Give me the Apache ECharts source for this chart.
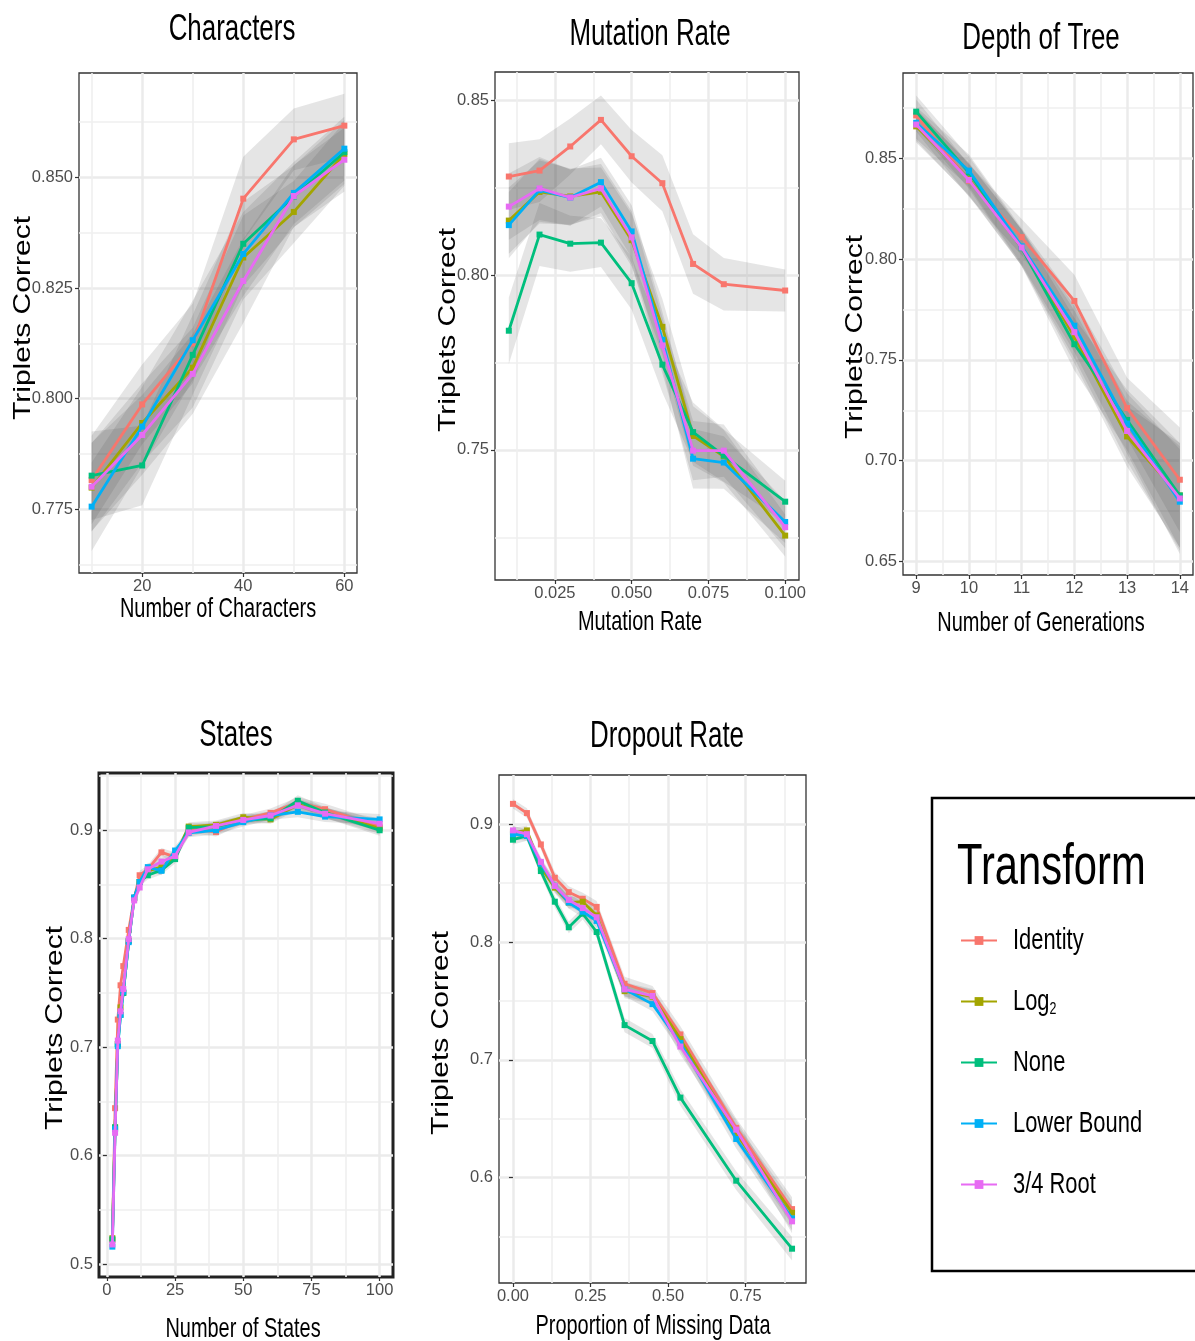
<!DOCTYPE html>
<html><head><meta charset="utf-8">
<script src="https://cdn.jsdelivr.net/npm/echarts@6/dist/echarts.min.js"></script>
<style>html,body{margin:0;padding:0;background:#fff}#c{width:1195px;height:1341px}</style>
</head><body><div id="c"></div>
<script>
const seriesNames = ['Identity', 'Log2', 'None', 'Lower Bound', '3/4 Root'];
const seriesColors = ['#F8766D', '#A3A500', '#00BF7D', '#00B0F6', '#E76BF3'];

// ---- Characters ----
const charX = [10, 20, 30, 40, 50, 60];
const charIdentity = [0.7816, 0.7987, 0.8125, 0.8452, 0.8586, 0.8617];
const charLog2     = [0.7799, 0.7945, 0.8070, 0.8319, 0.8422, 0.8553];
const charNone     = [0.7826, 0.7849, 0.8099, 0.8350, 0.8457, 0.8557];
const charLower    = [0.7756, 0.7937, 0.8132, 0.8327, 0.8465, 0.8565];
const charRoot     = [0.7801, 0.7918, 0.8056, 0.8266, 0.8458, 0.8540];
const charBand     = [0.010, 0.009, 0.009, 0.0095, 0.007, 0.0072];
const charXTicks = [20, 40, 60];
const charXMinor = [10, 30, 50];
const charYTicks = [0.775, 0.800, 0.825, 0.850];
const charYMinor = [0.7625, 0.7875, 0.8125, 0.8375, 0.8625];

// ---- Mutation Rate ----
const mutX = [0.01, 0.02, 0.03, 0.04, 0.05, 0.06, 0.07, 0.08, 0.10];
const mutIdentity = [0.8282, 0.8299, 0.8368, 0.8444, 0.8340, 0.8263, 0.8032, 0.7974, 0.7956];
const mutLog2     = [0.8156, 0.8238, 0.8225, 0.8238, 0.8100, 0.7852, 0.7540, 0.7482, 0.7255];
const mutNone     = [0.7841, 0.8116, 0.8090, 0.8093, 0.7977, 0.7744, 0.7551, 0.7484, 0.7352];
const mutLower    = [0.8143, 0.8243, 0.8222, 0.8266, 0.8125, 0.7815, 0.7475, 0.7464, 0.7294];
const mutRoot     = [0.8196, 0.8248, 0.8222, 0.8248, 0.8108, 0.7799, 0.7498, 0.7498, 0.7279];
const mutBand     = [0.0095, 0.009, 0.008, 0.007, 0.0075, 0.008, 0.0085, 0.0075, 0.006];
const mutXTicks = [0.025, 0.050, 0.075, 0.100];
const mutXMinor = [0.0125, 0.0375, 0.0625, 0.0875];
const mutYTicks = [0.75, 0.80, 0.85];
const mutYMinor = [0.725, 0.775, 0.825];

// ---- Depth of Tree ----
const depX = [9, 10, 11, 12, 13, 14];
const depIdentity = [0.8714, 0.8390, 0.8110, 0.7793, 0.7261, 0.6905];
const depLog2     = [0.8660, 0.8399, 0.8058, 0.7615, 0.7120, 0.6827];
const depNone     = [0.8733, 0.8430, 0.8055, 0.7578, 0.7202, 0.6827];
const depLower    = [0.8678, 0.8440, 0.8064, 0.7670, 0.7184, 0.6796];
const depRoot     = [0.8669, 0.8394, 0.8058, 0.7638, 0.7147, 0.6812];
const depBand     = [0.008, 0.008, 0.009, 0.013, 0.015, 0.026];
const depXTicks = [9, 10, 11, 12, 13, 14];
const depXMinor = [9.5, 10.5, 11.5, 12.5, 13.5];
const depYTicks = [0.65, 0.70, 0.75, 0.80, 0.85];
const depYMinor = [0.675, 0.725, 0.775, 0.825, 0.875];

// ---- States ----
const stX = [2, 3, 4, 5, 6, 8, 10, 12, 15, 20, 25, 30, 40, 50, 60, 70, 80, 100];
const stIdentity = [0.5221, 0.6437, 0.7254, 0.7570, 0.7747, 0.8081, 0.8370, 0.8585, 0.8640, 0.8796, 0.8755, 0.9017, 0.8983, 0.9100, 0.9160, 0.9255, 0.9194, 0.9034];
const stLog2     = [0.5238, 0.6260, 0.7030, 0.7366, 0.7500, 0.7980, 0.8377, 0.8523, 0.8626, 0.8660, 0.8755, 0.9034, 0.9050, 0.9120, 0.9100, 0.9238, 0.9163, 0.9017];
const stNone     = [0.5228, 0.6260, 0.7026, 0.7298, 0.7500, 0.7980, 0.8377, 0.8523, 0.8585, 0.8632, 0.8734, 0.9024, 0.9034, 0.9090, 0.9110, 0.9272, 0.9163, 0.9000];
const stLower    = [0.5160, 0.6243, 0.7009, 0.7298, 0.7510, 0.7968, 0.8380, 0.8523, 0.8660, 0.8626, 0.8813, 0.8976, 0.9000, 0.9075, 0.9136, 0.9170, 0.9126, 0.9100];
const stRoot     = [0.5180, 0.6210, 0.7060, 0.7330, 0.7536, 0.7996, 0.8353, 0.8472, 0.8640, 0.8711, 0.8762, 0.8980, 0.9040, 0.9095, 0.9136, 0.9230, 0.9153, 0.9060];
const stBand     = [0.005, 0.005, 0.005, 0.005, 0.005, 0.005, 0.004, 0.004, 0.004, 0.004, 0.004, 0.004, 0.004, 0.004, 0.004, 0.005, 0.005, 0.005];
const stXTicks = [0, 25, 50, 75, 100];
const stXMinor = [12.5, 37.5, 62.5, 87.5];
const stYTicks = [0.5, 0.6, 0.7, 0.8, 0.9];
const stYMinor = [0.55, 0.65, 0.75, 0.85, 0.95];

// ---- Dropout Rate ----
const drX = [0, 0.045, 0.09, 0.135, 0.18, 0.225, 0.27, 0.36, 0.45, 0.54, 0.72, 0.90];
const drIdentity = [0.9172, 0.9094, 0.8828, 0.8545, 0.8423, 0.8367, 0.8298, 0.7646, 0.7567, 0.7216, 0.6423, 0.5734];
const drLog2     = [0.8931, 0.8947, 0.8633, 0.8461, 0.8335, 0.8342, 0.8226, 0.7583, 0.7536, 0.7176, 0.6376, 0.5702];
const drNone     = [0.8868, 0.8900, 0.8602, 0.8342, 0.8125, 0.8241, 0.8085, 0.7295, 0.7160, 0.6680, 0.5975, 0.5398];
const drLower    = [0.8915, 0.8900, 0.8665, 0.8476, 0.8335, 0.8257, 0.8179, 0.7599, 0.7473, 0.7144, 0.6329, 0.5655];
const drRoot     = [0.8947, 0.8915, 0.8680, 0.8476, 0.8357, 0.8288, 0.8210, 0.7599, 0.7542, 0.7113, 0.6408, 0.5630];
const drBand     = [0.004, 0.004, 0.004, 0.005, 0.005, 0.005, 0.005, 0.006, 0.006, 0.007, 0.008, 0.010];
const drXTicks = [0, 0.25, 0.50, 0.75];
const drXMinor = [0.125, 0.375, 0.625, 0.875];
const drYTicks = [0.6, 0.7, 0.8, 0.9];
const drYMinor = [0.55, 0.65, 0.75, 0.85];

const panels = [
  { title: 'Characters', xName: 'Number of Characters', box: [79, 73, 357, 573],
    xr: [7.5, 62.5], yr: [0.7606, 0.8736], xt: charXTicks, xm: charXMinor, yt: charYTicks, ym: charYMinor,
    xd: 0, yd: 3, x: charX, ys: [charIdentity, charLog2, charNone, charLower, charRoot], band: charBand,
    tpos: [232, 30], xnpos: [218, 609], ynpos: [23, 318], bw: 1.3 },
  { title: 'Mutation Rate', xName: 'Mutation Rate', box: [495, 72, 799, 580],
    xr: [0.0055, 0.1045], yr: [0.7128, 0.8581], xt: mutXTicks, xm: mutXMinor, yt: mutYTicks, ym: mutYMinor,
    xd: 3, yd: 2, x: mutX, ys: [mutIdentity, mutLog2, mutNone, mutLower, mutRoot], band: mutBand,
    tpos: [650, 35], xnpos: [640, 622], ynpos: [448, 330], bw: 1.3 },
  { title: 'Depth of Tree', xName: 'Number of Generations', box: [903, 73, 1193, 575],
    xr: [8.75, 14.25], yr: [0.6432, 0.8925], xt: depXTicks, xm: depXMinor, yt: depYTicks, ym: depYMinor,
    xd: 0, yd: 2, x: depX, ys: [depIdentity, depLog2, depNone, depLower, depRoot], band: depBand,
    tpos: [1041, 39], xnpos: [1041, 623], ynpos: [855, 337], bw: 1.3 },
  { title: 'States', xName: 'Number of States', box: [99, 773, 393, 1277],
    xr: [-2.9, 104.9], yr: [0.488, 0.9528], xt: stXTicks, xm: stXMinor, yt: stYTicks, ym: stYMinor,
    xd: 0, yd: 1, x: stX, ys: [stIdentity, stLog2, stNone, stLower, stRoot], band: stBand,
    tpos: [236, 736], xnpos: [243, 1329], ynpos: [55, 1028], bw: 3 },
  { title: 'Dropout Rate', xName: 'Proportion of Missing Data', box: [499, 775, 806, 1283],
    xr: [-0.045, 0.945], yr: [0.5107, 0.9417], xt: drXTicks, xm: drXMinor, yt: drYTicks, ym: drYMinor,
    xd: 2, yd: 1, x: drX, ys: [drIdentity, drLog2, drNone, drLower, drRoot], band: drBand,
    tpos: [667, 737], xnpos: [653, 1326], ynpos: [441, 1033], bw: 1.3 }
];

const tickFont = "'Liberation Sans Narrow', 'Arial Narrow', 'Liberation Sans', sans-serif";
const textFont = "'Liberation Sans', Arial, sans-serif";

const grids = [], xAxes = [], yAxes = [], series = [], graphics = [];

panels.forEach((p, i) => {
  const [l, t, r, b] = p.box;
  grids.push({ left: l, top: t, width: r - l, height: b - t, show: true,
    borderColor: p.bw > 2 ? '#222' : '#333', borderWidth: p.bw, backgroundColor: 'transparent', containLabel: false });
  const mk = (isX, range, major, minor, dec) => [
    { type: 'value', gridIndex: i, min: range[0], max: range[1], position: isX ? 'bottom' : 'left',
      axisLine: { show: false },
      axisTick: { show: true, customValues: major, length: 4, lineStyle: { color: '#333', width: 1.2 } },
      axisLabel: { show: true, customValues: major, formatter: v => Number(v).toFixed(dec),
        color: '#4d4d4d', fontSize: 16.5, fontFamily: tickFont, margin: isX ? 5 : 6 },
      splitLine: { show: true, lineStyle: { color: '#ebebeb', width: 2.5 } } },
    { type: 'value', gridIndex: i, min: range[0], max: range[1], position: isX ? 'bottom' : 'left',
      axisLine: { show: false },
      axisTick: { show: false, customValues: minor },
      axisLabel: { show: false, customValues: minor },
      splitLine: { show: true, lineStyle: { color: '#efefef', width: 1.6 } } }
  ];
  xAxes.push(...mk(true, p.xr, p.xt, p.xm, p.xd));
  yAxes.push(...mk(false, p.yr, p.yt, p.ym, p.yd));

  // ribbons
  p.ys.forEach((ys, k) => {
    const lo = ys.map((v, j) => v - p.band[j]);
    const hi = ys.map((v, j) => v + p.band[j]);
    const xs = p.x;
    series.push({
      type: 'custom', name: 'band-' + i + '-' + k, xAxisIndex: 2 * i, yAxisIndex: 2 * i,
      silent: true, z: 2, clip: true, animation: false,
      data: xs.map((xv, j) => [xv, lo[j], hi[j]]),
      encode: { x: 0, y: [1, 2] },
      renderItem: (params, api) => {
        if (params.dataIndex !== 0) return null;
        const pts = [];
        for (let j = 0; j < xs.length; j++) pts.push(api.coord([xs[j], hi[j]]));
        for (let j = xs.length - 1; j >= 0; j--) pts.push(api.coord([xs[j], lo[j]]));
        return { type: 'polygon', shape: { points: pts }, style: { fill: 'rgba(80,80,80,0.15)' } };
      }
    });
  });
  // lines
  p.ys.forEach((ys, k) => {
    series.push({
      type: 'line', name: seriesNames[k], xAxisIndex: 2 * i, yAxisIndex: 2 * i,
      data: p.x.map((xv, j) => [xv, ys[j]]),
      symbol: 'rect', symbolSize: 6, showSymbol: true, z: 3 + k * 0.01,
      lineStyle: { width: 2.8, color: seriesColors[k] }, itemStyle: { color: seriesColors[k] },
      emphasis: { disabled: true }, animation: false, clip: true
    });
  });

  graphics.push({ type: 'text', x: p.tpos[0], y: p.tpos[1], scaleX: 0.70,
    style: { text: p.title, fontSize: 37, fontFamily: textFont, fill: '#000', align: 'center', verticalAlign: 'middle' } });
  graphics.push({ type: 'text', x: p.xnpos[0], y: p.xnpos[1], scaleX: 0.70,
    style: { text: p.xName, fontSize: 28.5, fontFamily: textFont, fill: '#000', align: 'center', verticalAlign: 'middle' } });
  graphics.push({ type: 'text', x: p.ynpos[0], y: p.ynpos[1], rotation: Math.PI / 2, scaleX: 1.25,
    style: { text: 'Triplets Correct', fontSize: 24, fontFamily: textFont, fill: '#000', align: 'center', verticalAlign: 'middle' } });
});

// legend box + title + labels
const legendY = [941, 1002, 1063, 1124, 1185];
graphics.push({ type: 'rect', shape: { x: 932, y: 798, width: 300, height: 473 },
  style: { fill: '#fff', stroke: '#000', lineWidth: 2.5 }, z: -10 });
graphics.push({ type: 'text', x: 957, y: 868, scaleX: 0.72,
  style: { text: 'Transform', fontSize: 58, fontFamily: textFont, fill: '#000', align: 'left', verticalAlign: 'middle' } });
seriesNames.forEach((n, k) => {
  graphics.push({ type: 'text', x: 1013, y: legendY[k], scaleX: 0.73,
    style: { text: n === 'Log2' ? 'Log{sub|2}' : n, fontSize: 30, fontFamily: textFont, fill: '#000',
      align: 'left', verticalAlign: 'middle',
      rich: { sub: { fontSize: 17, fontFamily: textFont, fill: '#000', padding: [14, 0, 0, 0] } } } });
});

const legends = seriesNames.map((n, k) => ({
  data: [n], left: 960, top: legendY[k] - 6, orient: 'vertical', itemWidth: 36, itemHeight: 11,
  selectedMode: false, formatter: () => '', textStyle: { fontSize: 10 }, padding: 0
}));

const chart = echarts.init(document.getElementById('c'), null, { renderer: 'canvas' });
chart.setOption({
  animation: false,
  backgroundColor: '#fff',
  grid: grids, xAxis: xAxes, yAxis: yAxes, series: series,
  legend: legends,
  graphic: { elements: graphics }
});
</script></body></html>
